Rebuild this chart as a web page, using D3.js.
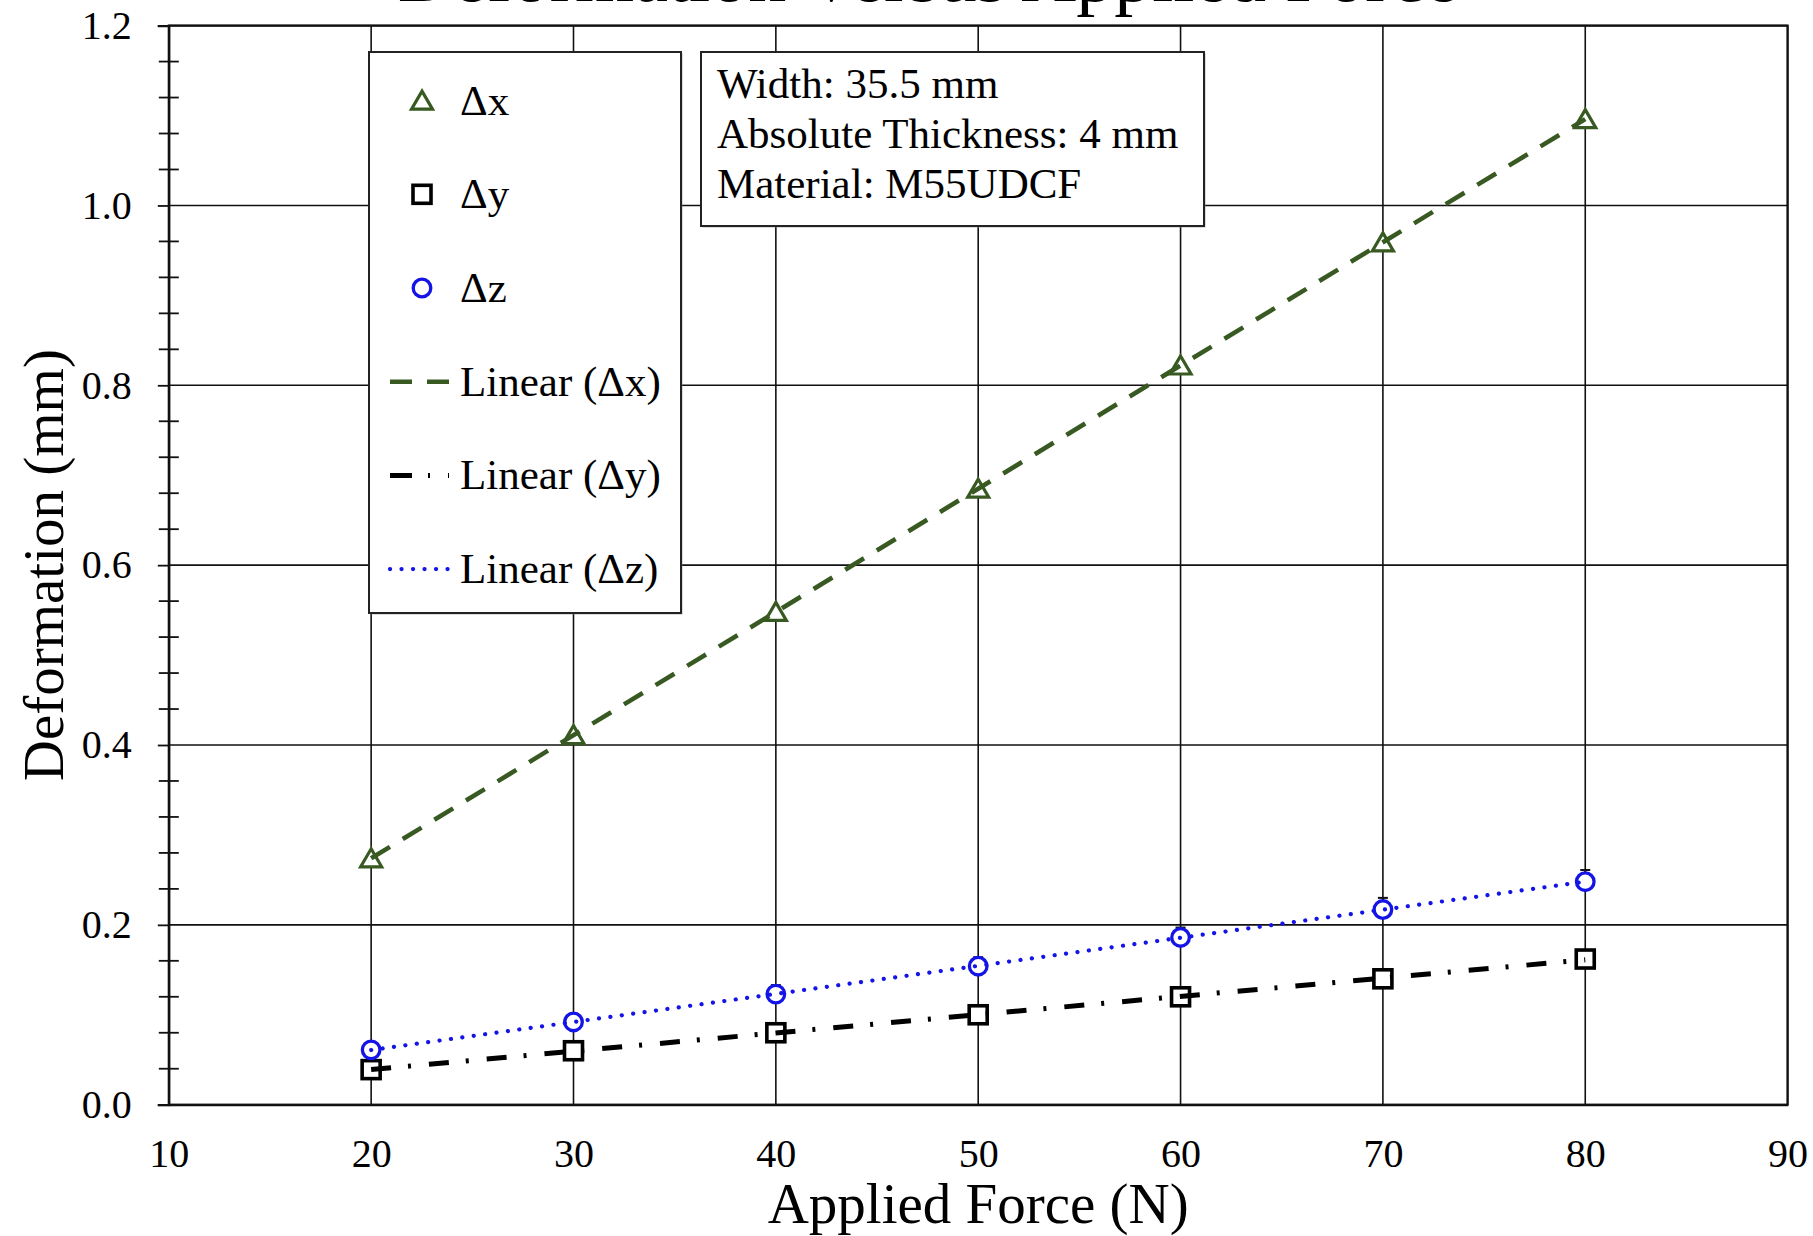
<!DOCTYPE html>
<html>
<head>
<meta charset="utf-8">
<script src="https://cdn.jsdelivr.net/npm/d3@7"></script>
<style>
  html, body { margin: 0; padding: 0; background: #fff; }
  svg { display: block; }
</style>
</head>
<body>
<svg id="chart" width="1813" height="1236"></svg>
<script>
// Measured deformation of the specimen under load
const force = [20, 30, 40, 50, 60, 70, 80];
const deltaX = [0.274, 0.411, 0.548, 0.685, 0.822, 0.959, 1.096];
const deltaY = [0.039, 0.060, 0.080, 0.100, 0.120, 0.140, 0.162];
const deltaZ = [0.061, 0.092, 0.123, 0.154, 0.186, 0.217, 0.248];
const deltaZErr = [0.008, 0.009, 0.010, 0.010, 0.011, 0.013, 0.013];

const xTicks = [10, 20, 30, 40, 50, 60, 70, 80, 90];
const yTicks = [0, 0.2, 0.4, 0.6, 0.8, 1.0, 1.2];
const notes = ["Width: 35.5 mm", "Absolute Thickness: 4 mm", "Material: M55UDCF"];
const seriesNames = ["\u0394x", "\u0394y", "\u0394z"];

const FONT = "'Liberation Serif', 'Times New Roman', serif";
const GREEN = "#385a22";
const BLUE = "#1414e6";
const BLACK = "#000";

const svg = d3.select("#chart");
const W = 1813, H = 1236;
const plot = { left: 168.8, right: 1787.6, top: 25.6, bottom: 1104.7 };

const x = d3.scaleLinear().domain([10, 90]).range([plot.left, plot.right]);
const y = d3.scaleLinear().domain([0, 1.2]).range([plot.bottom, plot.top]);

svg.append("rect").attr("width", W).attr("height", H).attr("fill", "#fff");

// Title (sits partly above the top edge of the canvas)
svg.append("text")
  .attr("x", 928).attr("y", 1)
  .attr("text-anchor", "middle")
  .attr("font-family", FONT).attr("font-size", 76)
  .attr("fill", "#000")
  .text("Deformation Versus Applied Force");

// Grid: vertical lines at every x tick, horizontal at every major y tick
const grid = svg.append("g").attr("stroke", "#111").attr("stroke-width", 1.6);
grid.selectAll("line.v").data(xTicks).join("line")
  .attr("x1", d => x(d)).attr("x2", d => x(d))
  .attr("y1", plot.top).attr("y2", plot.bottom);
grid.selectAll("line.h").data(yTicks).join("line")
  .attr("x1", plot.left).attr("x2", plot.right)
  .attr("y1", d => y(d)).attr("y2", d => y(d));

// Plot frame
svg.append("rect")
  .attr("x", plot.left).attr("y", plot.top)
  .attr("width", plot.right - plot.left).attr("height", plot.bottom - plot.top)
  .attr("fill", "none").attr("stroke", "#111").attr("stroke-width", 2.2);

// Y axis: major ticks outside, minor ticks crossing the axis line
const yAxis = d3.axisLeft(y).tickValues(yTicks).tickFormat(d3.format(".1f"))
  .tickSize(11).tickPadding(26);
const gy = svg.append("g").attr("transform", `translate(${plot.left},0)`).call(yAxis);
gy.select(".domain").attr("stroke", "#111").attr("stroke-width", 2.2);
gy.selectAll(".tick line").attr("stroke", "#111").attr("stroke-width", 1.8);
gy.selectAll(".tick text").attr("font-family", FONT).attr("font-size", 40).attr("fill", "#000");

const minor = d3.range(0, 1.2001, 0.04).filter(v => Math.abs(v / 0.2 - Math.round(v / 0.2)) > 1e-6);
svg.append("g").selectAll("line").data(minor).join("line")
  .attr("x1", plot.left - 10).attr("x2", plot.left + 10)
  .attr("y1", d => y(d)).attr("y2", d => y(d))
  .attr("stroke", "#111").attr("stroke-width", 1.8);

// X axis labels
const xAxis = d3.axisBottom(x).tickValues(xTicks).tickFormat(d3.format("d"))
  .tickSize(0).tickPadding(34);
const gx = svg.append("g").attr("transform", `translate(0,${plot.bottom})`).call(xAxis);
gx.select(".domain").attr("stroke", "#111").attr("stroke-width", 2.2);
gx.selectAll(".tick text").attr("font-family", FONT).attr("font-size", 40).attr("fill", "#000");

// Axis titles
svg.append("text")
  .attr("x", (plot.left + plot.right) / 2).attr("y", 1223)
  .attr("text-anchor", "middle")
  .attr("font-family", FONT).attr("font-size", 57)
  .text("Applied Force (N)");
svg.append("text")
  .attr("transform", `translate(63,${(plot.top + plot.bottom) / 2}) rotate(-90)`)
  .attr("text-anchor", "middle")
  .attr("font-family", FONT).attr("font-size", 57)
  .text("Deformation (mm)");

// Series definitions
const series = [
  { name: seriesNames[0], values: deltaX, color: GREEN, marker: "triangle",
    dash: "22 15", width: 4.6, cap: "butt" },
  { name: seriesNames[1], values: deltaY, color: BLACK, marker: "square",
    dash: "20 17 3 18", width: 5, cap: "butt" },
  { name: seriesNames[2], values: deltaZ, color: BLUE, marker: "circle",
    dash: "0.1 11.4", width: 4.2, cap: "round" }
];

function drawMarker(g, type, color) {
  if (type === "triangle") {
    g.append("path").attr("d", "M0,-9.5 L10.5,8.5 L-10.5,8.5 Z")
      .attr("fill", "#fff").attr("stroke", color).attr("stroke-width", 3.2)
      .attr("stroke-linejoin", "miter");
  } else if (type === "square") {
    g.append("rect").attr("x", -9).attr("y", -9).attr("width", 18).attr("height", 18)
      .attr("fill", "#fff").attr("stroke", color).attr("stroke-width", 3.6);
  } else {
    g.append("circle").attr("r", 8.8)
      .attr("fill", "#fff").attr("stroke", color).attr("stroke-width", 3.3);
  }
}

// Error bars on Δz (plus direction), drawn under the markers
const eb = svg.append("g").attr("stroke", "#111").attr("stroke-width", 2);
force.forEach((f, i) => {
  const cx = x(f), y0 = y(deltaZ[i]), y1 = y(deltaZ[i] + deltaZErr[i]);
  eb.append("line").attr("x1", cx).attr("x2", cx).attr("y1", y0).attr("y2", y1);
  eb.append("line").attr("x1", cx - 5).attr("x2", cx + 5).attr("y1", y1).attr("y2", y1);
});

// Markers
series.forEach(s => {
  const g = svg.append("g");
  force.forEach((f, i) => {
    const m = g.append("g").attr("transform", `translate(${x(f)},${y(s.values[i])})`);
    drawMarker(m, s.marker, s.color);
  });
});

// Least-squares linear trendlines, drawn over the markers
function linearFit(xs, ys) {
  const mx = d3.mean(xs), my = d3.mean(ys);
  const sxy = d3.sum(xs, (v, i) => (v - mx) * (ys[i] - my));
  const sxx = d3.sum(xs, v => (v - mx) * (v - mx));
  const slope = sxy / sxx;
  return { slope, intercept: my - slope * mx };
}
const line = d3.line().x(d => x(d[0])).y(d => y(d[1]));
series.forEach(s => {
  const fit = linearFit(force, s.values);
  const ends = d3.extent(force).map(f => [f, fit.intercept + fit.slope * f]);
  svg.append("path").attr("d", line(ends))
    .attr("fill", "none").attr("stroke", s.color)
    .attr("stroke-width", s.width).attr("stroke-dasharray", s.dash)
    .attr("stroke-linecap", s.cap);
});

// Legend
const legend = svg.append("g").attr("transform", "translate(369,52)");
legend.append("rect").attr("x", 1.5).attr("y", 1.5).attr("width", 312).attr("height", 561)
  .attr("fill", "#888").attr("opacity", 0.6);
legend.append("rect").attr("width", 312).attr("height", 561)
  .attr("fill", "#fff").attr("stroke", "#222").attr("stroke-width", 2);

const rowY = i => 48.6 + i * 93.7;
const legendDash = ["22 15", "22 16 2 18 2 40", "0.1 11.4"];
series.forEach((s, i) => {
  const m = legend.append("g").attr("transform", `translate(53,${rowY(i)})`);
  drawMarker(m, s.marker, s.color);
  legend.append("text").attr("x", 91).attr("y", rowY(i) + 14)
    .attr("font-family", FONT).attr("font-size", 43).text(s.name);
});
series.forEach((s, i) => {
  const ry = rowY(i + 3);
  legend.append("line").attr("x1", 21).attr("x2", 80).attr("y1", ry).attr("y2", ry)
    .attr("stroke", s.color).attr("stroke-width", s.width)
    .attr("stroke-dasharray", legendDash[i]).attr("stroke-linecap", s.cap);
  legend.append("text").attr("x", 91).attr("y", ry + 14)
    .attr("font-family", FONT).attr("font-size", 43).text(`Linear (${s.name})`);
});

// Specimen notes box
const note = svg.append("g").attr("transform", "translate(701,52)");
note.append("rect").attr("x", 1.5).attr("y", 1.5).attr("width", 503).attr("height", 174)
  .attr("fill", "#888").attr("opacity", 0.6);
note.append("rect").attr("width", 503).attr("height", 174)
  .attr("fill", "#fff").attr("stroke", "#222").attr("stroke-width", 2);
note.selectAll("text").data(notes).join("text")
  .attr("x", 16).attr("y", (d, i) => 46 + i * 50)
  .attr("font-family", FONT).attr("font-size", 43).text(d => d);
</script>
</body>
</html>
